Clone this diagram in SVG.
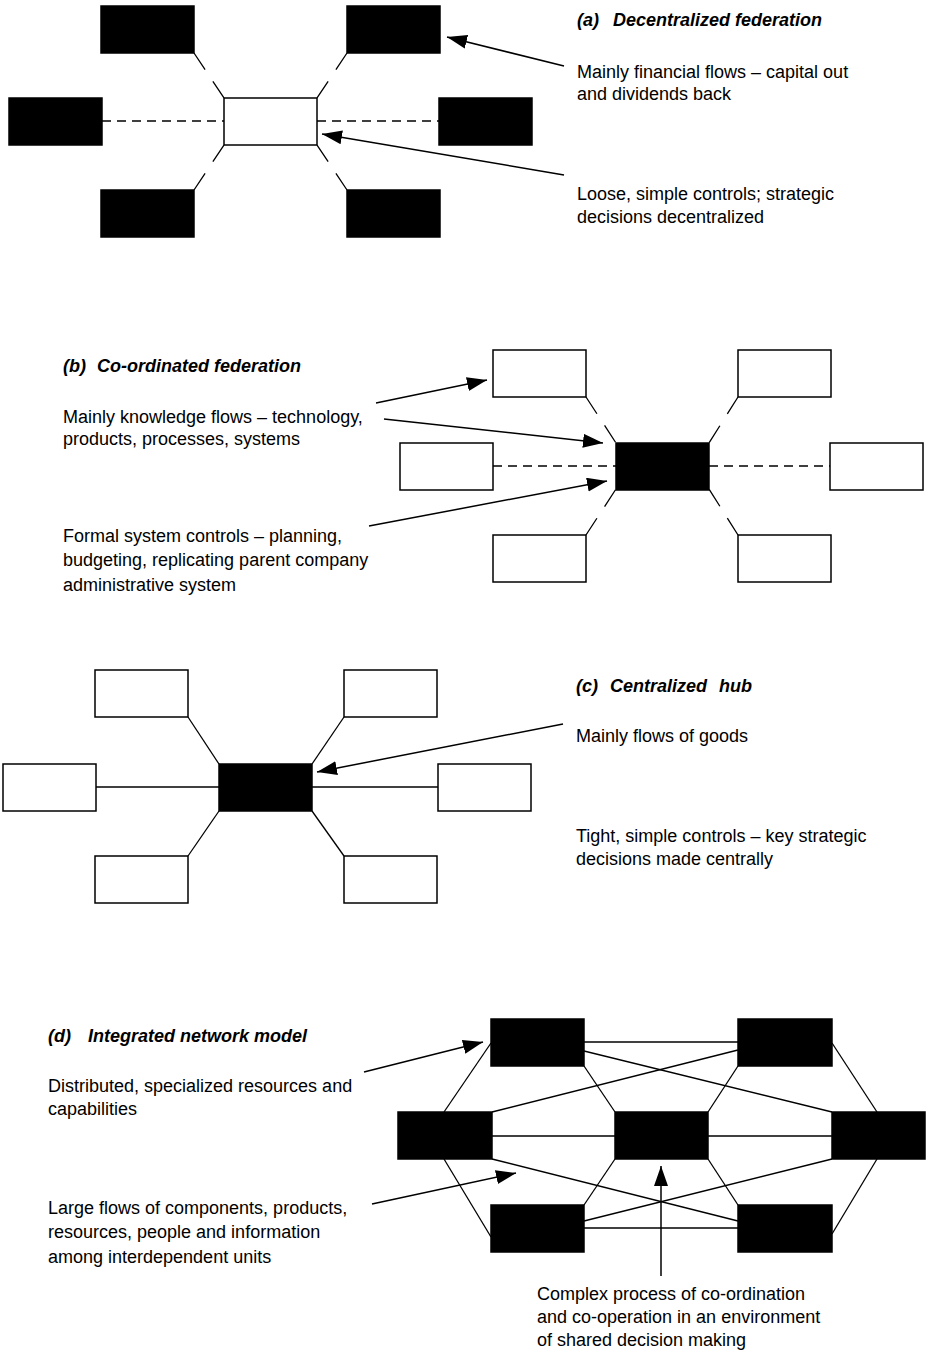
<svg xmlns="http://www.w3.org/2000/svg" width="930" height="1355" viewBox="0 0 930 1355">
<style>
.blk{fill:#000;stroke:#000;stroke-width:1.5}
.wht{fill:#fff;stroke:#000;stroke-width:1.5}
.dh{stroke:#000;stroke-width:1.3;stroke-dasharray:9,6;fill:none}
.dd{stroke:#000;stroke-width:1.3;stroke-dasharray:20,14;fill:none}
.sl{stroke:#000;stroke-width:1.3;fill:none}
.ar{stroke:#000;stroke-width:1.5;fill:none;marker-end:url(#ah)}
text{font-family:"Liberation Sans",Arial,sans-serif;font-size:18px;fill:#000}
.tt{font-weight:bold;font-style:italic}
</style>
<defs>
<marker id="ah" markerUnits="userSpaceOnUse" markerWidth="22" markerHeight="16" refX="20" refY="7" orient="auto"><path d="M0,0 L20,7 L0,14 z" fill="#000"/></marker>
</defs>
<rect width="930" height="1355" fill="#fff"/>

<!-- (a) connectors -->
<g id="connectors-a">
<line class="dh" x1="102" y1="121" x2="224" y2="121"/>
<line class="dh" x1="317" y1="121" x2="439" y2="121"/>
<line class="dd" x1="194" y1="53" x2="224" y2="98"/>
<line class="dd" x1="347" y1="53" x2="317" y2="98"/>
<line class="dd" x1="194" y1="190" x2="224" y2="145"/>
<line class="dd" x1="347" y1="190" x2="317" y2="145"/>
<line class="ar" x1="564" y1="66" x2="447" y2="37"/>
<line class="ar" x1="564" y1="175" x2="322" y2="134"/>
</g>
<g id="a-tl"><rect class="blk" x="101" y="6" width="93" height="47"/></g>
<g id="a-tr"><rect class="blk" x="347" y="6" width="93" height="47"/></g>
<g id="a-ml"><rect class="blk" x="9" y="98" width="93" height="47"/></g>
<g id="a-c"><rect class="wht" x="224" y="98" width="93" height="47"/></g>
<g id="a-mr"><rect class="blk" x="439" y="98" width="93" height="47"/></g>
<g id="a-bl"><rect class="blk" x="101" y="190" width="93" height="47"/></g>
<g id="a-br"><rect class="blk" x="347" y="190" width="93" height="47"/></g>
<g id="a-labels">
<text class="tt" y="26"><tspan x="577">(a)</tspan><tspan x="613">Decentralized federation</tspan></text>
<text x="577" y="78">Mainly financial flows – capital out</text>
<text x="577" y="100">and dividends back</text>
<text x="577" y="200">Loose, simple controls; strategic</text>
<text x="577" y="223">decisions decentralized</text>
</g>

<!-- (b) connectors -->
<g id="connectors-b">
<line class="dh" x1="493" y1="466" x2="616" y2="466"/>
<line class="dh" x1="709" y1="466" x2="830" y2="466"/>
<line class="dd" x1="586" y1="397" x2="616" y2="443"/>
<line class="dd" x1="738" y1="397" x2="709" y2="443"/>
<line class="dd" x1="586" y1="535" x2="616" y2="489"/>
<line class="dd" x1="738" y1="535" x2="709" y2="489"/>
<line class="ar" x1="376" y1="403" x2="487" y2="380"/>
<line class="ar" x1="384" y1="419" x2="603" y2="443"/>
<line class="ar" x1="369" y1="526" x2="607" y2="481"/>
</g>
<g id="b-tl"><rect class="wht" x="493" y="350" width="93" height="47"/></g>
<g id="b-tr"><rect class="wht" x="738" y="350" width="93" height="47"/></g>
<g id="b-ml"><rect class="wht" x="400" y="443" width="93" height="47"/></g>
<g id="b-c"><rect class="blk" x="616" y="443" width="93" height="47"/></g>
<g id="b-mr"><rect class="wht" x="830" y="443" width="93" height="47"/></g>
<g id="b-bl"><rect class="wht" x="493" y="535" width="93" height="47"/></g>
<g id="b-br"><rect class="wht" x="738" y="535" width="93" height="47"/></g>
<g id="b-labels">
<text class="tt" y="372"><tspan x="63">(b)</tspan><tspan x="97">Co-ordinated federation</tspan></text>
<text x="63" y="423">Mainly knowledge flows – technology,</text>
<text x="63" y="445">products, processes, systems</text>
<text x="63" y="542">Formal system controls – planning,</text>
<text x="63" y="566">budgeting, replicating parent company</text>
<text x="63" y="591">administrative system</text>
</g>

<!-- (c) connectors -->
<g id="connectors-c">
<line class="sl" x1="96" y1="787" x2="219" y2="787"/>
<line class="sl" x1="312" y1="787" x2="438" y2="787"/>
<line class="sl" x1="188" y1="717" x2="219" y2="764"/>
<line class="sl" x1="344" y1="717" x2="312" y2="764"/>
<line class="sl" x1="188" y1="856" x2="219" y2="811"/>
<line class="sl" x1="344" y1="856" x2="312" y2="811"/>
<line class="ar" x1="563" y1="724" x2="317" y2="772"/>
</g>
<g id="c-tl"><rect class="wht" x="95" y="670" width="93" height="47"/></g>
<g id="c-tr"><rect class="wht" x="344" y="670" width="93" height="47"/></g>
<g id="c-ml"><rect class="wht" x="3" y="764" width="93" height="47"/></g>
<g id="c-c"><rect class="blk" x="219" y="764" width="93" height="47"/></g>
<g id="c-mr"><rect class="wht" x="438" y="764" width="93" height="47"/></g>
<g id="c-bl"><rect class="wht" x="95" y="856" width="93" height="47"/></g>
<g id="c-br"><rect class="wht" x="344" y="856" width="93" height="47"/></g>
<g id="c-labels">
<text class="tt" y="692"><tspan x="576">(c)</tspan><tspan x="610">Centralized</tspan><tspan x="719">hub</tspan></text>
<text x="576" y="742">Mainly flows of goods</text>
<text x="576" y="842">Tight, simple controls – key strategic</text>
<text x="576" y="865">decisions made centrally</text>
</g>

<!-- (d) connectors -->
<g id="connectors-d">
<line class="sl" x1="584" y1="1042" x2="738" y2="1042"/>
<line class="sl" x1="584" y1="1051" x2="832" y2="1112"/>
<line class="sl" x1="738" y1="1050" x2="492" y2="1112"/>
<line class="sl" x1="491" y1="1043" x2="444" y2="1112"/>
<line class="sl" x1="832" y1="1043" x2="877" y2="1112"/>
<line class="sl" x1="584" y1="1066" x2="615" y2="1112"/>
<line class="sl" x1="738" y1="1066" x2="708" y2="1112"/>
<line class="sl" x1="492" y1="1136" x2="615" y2="1136"/>
<line class="sl" x1="708" y1="1136" x2="832" y2="1136"/>
<line class="sl" x1="492" y1="1159" x2="738" y2="1221"/>
<line class="sl" x1="832" y1="1159" x2="584" y2="1221"/>
<line class="sl" x1="584" y1="1228" x2="738" y2="1228"/>
<line class="sl" x1="444" y1="1159" x2="491" y2="1237"/>
<line class="sl" x1="877" y1="1159" x2="832" y2="1234"/>
<line class="sl" x1="615" y1="1159" x2="584" y2="1205"/>
<line class="sl" x1="708" y1="1159" x2="738" y2="1205"/>
<line class="ar" x1="364" y1="1072" x2="483" y2="1042"/>
<line class="ar" x1="372" y1="1204" x2="516" y2="1173"/>
<line class="ar" x1="661" y1="1276" x2="661" y2="1166"/>
</g>
<g id="d-tl"><rect class="blk" x="491" y="1019" width="93" height="47"/></g>
<g id="d-tr"><rect class="blk" x="738" y="1019" width="94" height="47"/></g>
<g id="d-ml"><rect class="blk" x="398" y="1112" width="94" height="47"/></g>
<g id="d-c"><rect class="blk" x="615" y="1112" width="93" height="47"/></g>
<g id="d-mr"><rect class="blk" x="832" y="1112" width="93" height="47"/></g>
<g id="d-bl"><rect class="blk" x="491" y="1205" width="93" height="47"/></g>
<g id="d-br"><rect class="blk" x="738" y="1205" width="94" height="47"/></g>
<g id="d-labels">
<text class="tt" y="1042"><tspan x="48">(d)</tspan><tspan x="88">Integrated network model</tspan></text>
<text x="48" y="1092">Distributed, specialized resources and</text>
<text x="48" y="1115">capabilities</text>
<text x="48" y="1214">Large flows of components, products,</text>
<text x="48" y="1238">resources, people and information</text>
<text x="48" y="1263">among interdependent units</text>
<text x="537" y="1300">Complex process of co-ordination</text>
<text x="537" y="1323">and co-operation in an environment</text>
<text x="537" y="1346">of shared decision making</text>
</g>
</svg>
